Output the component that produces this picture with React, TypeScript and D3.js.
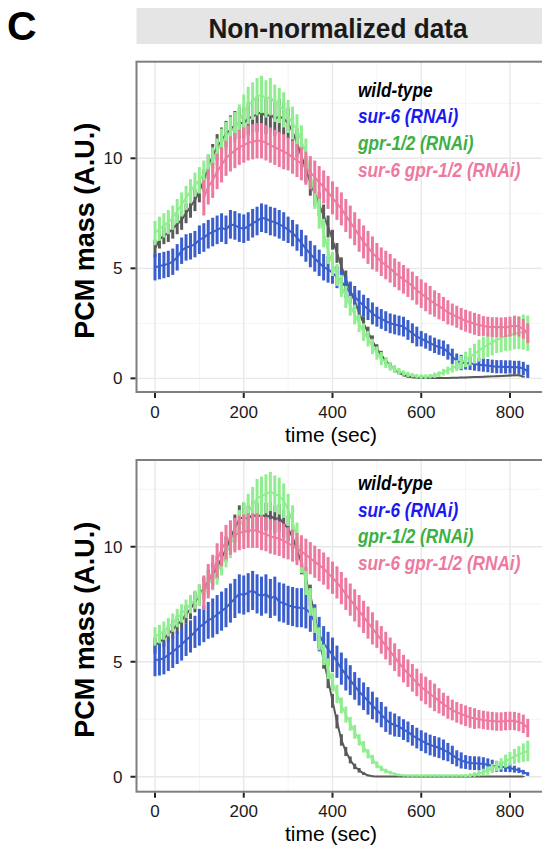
import React from "react";
import * as d3 from "d3";

// sampling times (sec)
const time = d3.range(0, 850, 10);

const labels = ["wild-type", "sur-6 (RNAi)", "gpr-1/2 (RNAi)", "sur-6 gpr-1/2 (RNAi)"];
const lineColors = ["#5a5a5a", "#3a5fcd", "#90ee90", "#ee799f"];
const textColors = ["#000000", "#1a1af0", "#3cb043", "#ee799f"];

const xTicks = [0, 200, 400, 600, 800];
const yTicks = [0, 5, 10];

// ---- top panel ----
const wtTop = [5.9, 6.3, 6.5, 6.6, 6.8, 7.0, 7.2, 7.5, 7.8, 8.1,
  8.5, 9.0, 9.6, 10.1, 10.5, 10.8, 11.1, 11.3, 11.5, 11.6,
  11.6, 11.8, 11.9, 12.0, 12.1, 11.9, 12.0, 11.8, 11.9, 11.8,
  11.6, 11.2, 10.7, 10.1, 9.5, 8.9, 8.4, 7.9, 7.4, 6.9,
  6.3, 5.7, 5.1, 4.5, 4.0, 3.5, 3.0, 2.5, 2.1, 1.7,
  1.35, 1.05, 0.8, 0.58, 0.4, 0.26, 0.15, 0.08, 0.05, 0.03,
  0.02, 0.02, 0.02, 0.02, 0.03, 0.02, 0.02, 0.03, 0.03, 0.04,
  0.04, 0.05, 0.06, 0.06, 0.07, 0.08, 0.09, 0.1, 0.11, 0.12,
  0.13, 0.14, 0.14, 0.08, null];
const wtTopErr = [0.4, 0.4, 0.4, 0.4, 0.45, 0.45, 0.45, 0.45, 0.5, 0.5,
  0.5, 0.5, 0.55, 0.55, 0.6, 0.6, 0.6, 0.65, 0.65, 0.7,
  0.7, 0.75, 0.75, 0.8, 0.8, 0.8, 0.8, 0.8, 0.8, 0.75,
  0.7, 0.7, 0.65, 0.65, 0.6, 0.6, 0.55, 0.55, 0.5, 0.5,
  0.45, 0.45, 0.4, 0.4, 0.35, 0.35, 0.3, 0.3, 0.25, 0.25,
  0.2, 0.2, 0.15, 0.12, 0.1, 0.08, 0.06, 0.05, 0.04, 0.03,
  0.03, 0.03, 0.03, 0.03, 0.03, 0.03, 0.03, 0.03, 0.03, 0.03,
  0.03, 0.03, 0.03, 0.03, 0.03, 0.03, 0.03, 0.03, 0.03, 0.03,
  0.04, 0.04, 0.04, 0.04, null];

const sur6Top = [5.05, 5.1, 5.15, 5.2, 5.3, 5.5, 5.8, 5.95, 6.0, 6.1,
  6.3, 6.4, 6.55, 6.65, 6.75, 6.85, 6.75, 7.0, 6.95, 6.85,
  6.8, 6.9, 7.05, 7.15, 7.3, 7.25, 7.15, 7.1, 7.0, 6.9,
  6.75, 6.6, 6.4, 6.15, 5.9, 5.65, 5.45, 5.25, 5.05, 4.95,
  4.8, 4.6, 4.4, 4.15, 3.9, 3.7, 3.5, 3.3, 3.15, 2.95,
  2.8, 2.7, 2.6, 2.5, 2.45, 2.4, 2.35, 2.2, 2.05, 1.9,
  1.8, 1.7, 1.6, 1.5, 1.42, 1.37, 1.2, 1.0, 0.78, 0.72,
  0.7, 0.68, 0.65, 0.62, 0.6, 0.58, 0.55, 0.53, 0.53, 0.52,
  0.52, 0.5, 0.5, 0.45, 0.32];
const sur6TopErr = [0.6, 0.6, 0.6, 0.6, 0.6, 0.6, 0.6, 0.6, 0.6, 0.6,
  0.65, 0.65, 0.65, 0.65, 0.65, 0.65, 0.65, 0.65, 0.65, 0.65,
  0.65, 0.65, 0.65, 0.65, 0.65, 0.65, 0.65, 0.65, 0.65, 0.65,
  0.6, 0.6, 0.6, 0.6, 0.6, 0.6, 0.6, 0.6, 0.6, 0.6,
  0.5, 0.5, 0.5, 0.5, 0.5, 0.5, 0.5, 0.5, 0.5, 0.5,
  0.45, 0.45, 0.45, 0.45, 0.45, 0.45, 0.45, 0.45, 0.45, 0.45,
  0.35, 0.35, 0.35, 0.35, 0.35, 0.35, 0.35, 0.35, 0.35, 0.35,
  0.3, 0.3, 0.3, 0.3, 0.3, 0.3, 0.3, 0.3, 0.3, 0.3,
  0.3, 0.3, 0.3, 0.3, 0.3];

const gprTop = [6.6, 6.8, 6.95, 7.1, 7.3, 7.6, 7.9, 8.2, 8.5, 8.8,
  9.0, 9.3, 9.6, 9.9, 10.3, 10.7, 11.0, 11.2, 11.4, 11.7,
  12.1, 12.4, 12.6, 12.8, 12.9, 12.7, 12.8, 12.5, 12.4, 12.2,
  11.9, 11.6, 11.3, 10.8, 10.2, 9.3, 8.4, 7.5, 6.6, 5.8,
  5.2, 4.7, 4.2, 3.7, 3.3, 2.9, 2.5, 2.1, 1.8, 1.45,
  1.15, 0.9, 0.72, 0.55, 0.42, 0.32, 0.24, 0.18, 0.14, 0.1,
  0.08, 0.08, 0.1, 0.14, 0.2, 0.28, 0.36, 0.46, 0.58, 0.72,
  0.86, 0.98, 1.12, 1.26, 1.4, 1.52, 1.64, 1.75, 1.84, 1.9,
  1.96, 2.02, 2.08, 2.1, 2.05];
const gprTopErr = [0.55, 0.55, 0.55, 0.55, 0.55, 0.55, 0.55, 0.55, 0.55, 0.55,
  0.6, 0.6, 0.6, 0.6, 0.6, 0.65, 0.65, 0.7, 0.7, 0.75,
  0.8, 0.85, 0.85, 0.85, 0.85, 0.85, 0.85, 0.85, 0.8, 0.8,
  0.75, 0.75, 0.7, 0.7, 0.7, 0.7, 0.7, 0.7, 0.65, 0.6,
  0.55, 0.5, 0.5, 0.5, 0.45, 0.45, 0.4, 0.4, 0.35, 0.35,
  0.3, 0.3, 0.25, 0.2, 0.18, 0.15, 0.12, 0.12, 0.1, 0.1,
  0.1, 0.1, 0.1, 0.12, 0.12, 0.15, 0.18, 0.2, 0.25, 0.3,
  0.35, 0.4, 0.45, 0.5, 0.5, 0.55, 0.6, 0.6, 0.65, 0.65,
  0.7, 0.7, 0.75, 0.8, 0.8];

const dblTop = [null, null, null, null, null, null, null, null, null, null, null,
  8.2, 8.7, 9.0, 9.4, 9.7, 10.0, 10.2, 10.35, 10.5,
  10.6, 10.7, 10.75, 10.8, 10.8, 10.7, 10.6, 10.5, 10.4, 10.3,
  10.2, 10.05, 9.9, 9.75, 9.55, 9.35, 9.15, 8.9, 8.7, 8.45,
  8.2, 7.95, 7.7, 7.4, 7.1, 6.8, 6.5, 6.2, 5.95, 5.7,
  5.5, 5.3, 5.15, 5.0, 4.8, 4.65, 4.5, 4.35, 4.2, 4.0,
  3.85, 3.7, 3.55, 3.4, 3.28, 3.15, 3.0, 2.9, 2.8, 2.7,
  2.62, 2.55, 2.48, 2.42, 2.38, 2.35, 2.33, 2.33, 2.32, 2.33,
  2.35, 2.4, 2.35, 2.25, 2.05];
const dblTopErr = [null, null, null, null, null, null, null, null, null, null, null,
  0.8, 0.8, 0.8, 0.8, 0.8, 0.8, 0.8, 0.8, 0.8,
  0.8, 0.8, 0.8, 0.8, 0.8, 0.8, 0.8, 0.8, 0.8, 0.8,
  0.75, 0.75, 0.75, 0.75, 0.75, 0.75, 0.75, 0.75, 0.75, 0.75,
  0.75, 0.75, 0.75, 0.75, 0.75, 0.75, 0.75, 0.75, 0.75, 0.75,
  0.65, 0.65, 0.65, 0.65, 0.65, 0.65, 0.65, 0.65, 0.65, 0.65,
  0.65, 0.65, 0.65, 0.6, 0.6, 0.55, 0.55, 0.5, 0.5, 0.5,
  0.5, 0.5, 0.5, 0.5, 0.45, 0.45, 0.45, 0.45, 0.45, 0.45,
  0.45, 0.45, 0.45, 0.45, 0.45];

// ---- bottom panel ----
const wtBot = [5.7, 5.85, 6.0, 6.2, 6.4, 6.6, 6.8, 7.05, 7.3, 7.6,
  7.9, 8.2, 8.5, 8.8, 9.1, 9.5, 9.9, 10.4, 10.8, 11.2,
  11.3, 11.2, 11.4, 11.3, 11.4, 11.3, 11.35, 11.2, 11.25, 11.0,
  10.8, 10.4, 9.9, 9.3, 8.6, 7.9, 7.0, 6.0, 5.1, 4.2,
  3.3, 2.4, 1.6, 1.1, 0.73, 0.45, 0.28, 0.14, 0.06, 0.02,
  0.01, 0.01, 0.01, 0.01, 0.01, 0.01, 0.01, 0.01, 0.01, 0.01,
  0.01, 0.01, 0.01, 0.01, 0.01, 0.01, 0.01, 0.01, 0.01, 0.01,
  0.01, 0.01, 0.01, 0.01, 0.01, 0.01, 0.01, 0.01, 0.01, 0.01,
  0.01, 0.01, 0.01, 0.01, null];
const wtBotErr = [0.35, 0.35, 0.35, 0.35, 0.4, 0.4, 0.4, 0.4, 0.45, 0.45,
  0.45, 0.45, 0.5, 0.5, 0.5, 0.55, 0.55, 0.55, 0.6, 0.6,
  0.6, 0.6, 0.6, 0.6, 0.6, 0.6, 0.6, 0.6, 0.6, 0.6,
  0.55, 0.55, 0.5, 0.5, 0.5, 0.45, 0.45, 0.4, 0.4, 0.35,
  0.3, 0.3, 0.25, 0.2, 0.15, 0.12, 0.1, 0.06, 0.04, 0.03,
  0.02, 0.02, 0.02, 0.02, 0.02, 0.02, 0.02, 0.02, 0.02, 0.02,
  0.02, 0.02, 0.02, 0.02, 0.02, 0.02, 0.02, 0.02, 0.02, 0.02,
  0.02, 0.02, 0.02, 0.02, 0.02, 0.02, 0.02, 0.02, 0.02, 0.02,
  0.02, 0.02, 0.02, 0.02, null];

const sur6Bot = [5.07, 5.1, 5.15, 5.3, 5.43, 5.6, 5.75, 5.95, 6.1, 6.3,
  6.5, 6.65, 6.8, 6.9, 7.05, 7.2, 7.35, 7.55, 7.75, 7.95,
  7.9, 8.0, 8.1, 7.95, 7.85, 7.95, 7.75, 7.85, 7.6, 7.55,
  7.45, 7.4, 7.35, 7.35, 7.3, 7.1, 6.7, 6.2, 5.8, 5.55,
  5.3, 5.0, 4.7, 4.45, 4.2, 3.95, 3.7, 3.5, 3.3, 3.1,
  2.9, 2.7, 2.5, 2.33, 2.25, 2.18, 2.05, 1.95, 1.8, 1.68,
  1.57, 1.47, 1.38, 1.32, 1.26, 1.17, 1.07, 0.95, 0.8, 0.71,
  0.64, 0.6, 0.59, 0.58, 0.55, 0.52, 0.48, 0.45, 0.43, 0.41,
  0.38, 0.33, 0.28, 0.2, 0.12];
const sur6BotErr = [0.7, 0.7, 0.7, 0.7, 0.7, 0.7, 0.7, 0.7, 0.7, 0.7,
  0.8, 0.8, 0.8, 0.85, 0.85, 0.85, 0.85, 0.85, 0.85, 0.85,
  0.85, 0.85, 0.85, 0.85, 0.85, 0.85, 0.85, 0.85, 0.85, 0.85,
  0.85, 0.85, 0.85, 0.85, 0.85, 0.8, 0.8, 0.75, 0.75, 0.75,
  0.75, 0.7, 0.7, 0.7, 0.65, 0.6, 0.6, 0.6, 0.6, 0.6,
  0.55, 0.55, 0.55, 0.5, 0.5, 0.45, 0.45, 0.45, 0.45, 0.45,
  0.45, 0.45, 0.45, 0.45, 0.45, 0.45, 0.4, 0.4, 0.35, 0.35,
  0.3, 0.3, 0.3, 0.3, 0.3, 0.28, 0.26, 0.24, 0.22, 0.2,
  0.18, 0.15, 0.12, 0.1, 0.08];

const gprBot = [6.1, 6.2, 6.35, 6.5, 6.7, 6.9, 7.1, 7.3, 7.5, 7.7,
  7.9, 8.1, 8.35, 8.6, 8.9, 9.3, 9.7, 10.1, 10.5, 10.9,
  11.2, 11.5, 11.8, 12.1, 12.2, 12.3, 12.4, 12.3, 12.2, 12.0,
  11.6, 11.1, 10.4, 9.5, 8.5, 7.6, 6.8, 6.0, 5.3, 4.7,
  4.1, 3.6, 3.1, 2.7, 2.3, 1.95, 1.6, 1.3, 1.0, 0.75,
  0.52, 0.36, 0.25, 0.18, 0.12, 0.08, 0.06, 0.05, 0.05, 0.05,
  0.05, 0.05, 0.05, 0.05, 0.05, 0.05, 0.05, 0.05, 0.05, 0.05,
  0.05, 0.07, 0.1, 0.14, 0.2, 0.27, 0.36, 0.46, 0.56, 0.68,
  0.78, 0.88, 0.97, 1.05, 1.12];
const gprBotErr = [0.4, 0.4, 0.4, 0.4, 0.4, 0.4, 0.4, 0.4, 0.4, 0.4,
  0.45, 0.45, 0.5, 0.5, 0.55, 0.55, 0.6, 0.6, 0.65, 0.7,
  0.75, 0.8, 0.8, 0.85, 0.85, 0.85, 0.85, 0.8, 0.8, 0.75,
  0.7, 0.7, 0.65, 0.65, 0.6, 0.6, 0.55, 0.5, 0.45, 0.45,
  0.4, 0.4, 0.35, 0.35, 0.3, 0.3, 0.25, 0.25, 0.2, 0.2,
  0.15, 0.12, 0.1, 0.08, 0.06, 0.06, 0.05, 0.05, 0.05, 0.05,
  0.05, 0.05, 0.05, 0.05, 0.05, 0.05, 0.05, 0.05, 0.05, 0.05,
  0.06, 0.08, 0.1, 0.12, 0.15, 0.18, 0.2, 0.22, 0.25, 0.28,
  0.3, 0.33, 0.36, 0.4, 0.45];

const dblBot = [null, null, null, null, null, null, null, null, null, null, null,
  8.0, 8.5, 8.9, 9.4, 9.9, 10.2, 10.4, 10.5, 10.6,
  10.65, 10.7, 10.7, 10.7, 10.6, 10.55, 10.45, 10.4, 10.35, 10.25,
  10.15, 10.05, 9.9, 9.8, 9.65, 9.5, 9.35, 9.2, 9.05, 8.85,
  8.65, 8.45, 8.2, 7.95, 7.7, 7.45, 7.2, 6.95, 6.7, 6.45,
  6.2, 5.95, 5.7, 5.45, 5.2, 4.95, 4.7, 4.5, 4.3, 4.1,
  3.9, 3.75, 3.6, 3.45, 3.3, 3.15, 3.02, 2.9, 2.8, 2.72,
  2.65, 2.58, 2.53, 2.5, 2.47, 2.44, 2.42, 2.4, 2.4, 2.42,
  2.43, 2.42, 2.38, 2.3, 2.12];
const dblBotErr = [null, null, null, null, null, null, null, null, null, null, null,
  0.75, 0.75, 0.75, 0.75, 0.75, 0.75, 0.75, 0.75, 0.75,
  0.75, 0.75, 0.75, 0.75, 0.75, 0.75, 0.75, 0.75, 0.75, 0.75,
  0.7, 0.7, 0.7, 0.7, 0.7, 0.7, 0.7, 0.7, 0.7, 0.7,
  0.7, 0.7, 0.7, 0.7, 0.7, 0.7, 0.7, 0.7, 0.7, 0.7,
  0.6, 0.6, 0.6, 0.6, 0.6, 0.6, 0.6, 0.6, 0.6, 0.6,
  0.6, 0.6, 0.6, 0.6, 0.55, 0.5, 0.5, 0.45, 0.45, 0.45,
  0.45, 0.45, 0.45, 0.4, 0.4, 0.4, 0.4, 0.4, 0.4, 0.4,
  0.4, 0.4, 0.4, 0.4, 0.4];

const topSeries = [[wtTop, wtTopErr], [sur6Top, sur6TopErr], [gprTop, gprTopErr], [dblTop, dblTopErr]];
const botSeries = [[wtBot, wtBotErr], [sur6Bot, sur6BotErr], [gprBot, gprBotErr], [dblBot, dblBotErr]];

const FONT = "'Liberation Sans', Arial, Helvetica, sans-serif";
const LEFT = 136.5;
const RIGHT = 543;

type Val = number | null;

function Panel({ top, bottom, yDomain, series, legendTop }:
  { top: number; bottom: number; yDomain: [number, number]; series: Val[][][]; legendTop: number }) {
  const x = d3.scaleLinear().domain([0, 800]).range([155, 510]);
  const y = d3.scaleLinear().domain(yDomain).range([bottom, top]);

  const xMinor = [100, 300, 500, 700];
  const yMinor = [2.5, 7.5, 12.5];

  return (
    <g>
      <rect x={LEFT} y={top} width={RIGHT - LEFT} height={bottom - top} fill="#ffffff" />
      {yMinor.map(v => (
        <line key={"ym" + v} x1={LEFT} x2={RIGHT} y1={y(v)} y2={y(v)} stroke="#f4f4f4" strokeWidth={1} />
      ))}
      {xMinor.map(v => (
        <line key={"xm" + v} x1={x(v)} x2={x(v)} y1={top} y2={bottom} stroke="#f4f4f4" strokeWidth={1} />
      ))}
      {yTicks.map(v => (
        <line key={"yM" + v} x1={LEFT} x2={RIGHT} y1={y(v)} y2={y(v)} stroke="#e8e8e8" strokeWidth={1.4} />
      ))}
      {xTicks.map(v => (
        <line key={"xM" + v} x1={x(v)} x2={x(v)} y1={top} y2={bottom} stroke="#e8e8e8" strokeWidth={1.4} />
      ))}

      {series.map(([vals, errs], si) => {
        const idx = d3.range(time.length).filter(i => vals[i] != null);
        const line = d3.line<number>()
          .x(i => x(time[i]))
          .y(i => y(vals[i] as number));
        return (
          <g key={"s" + si}>
            {idx.map(i => (
              <line key={i}
                x1={x(time[i])} x2={x(time[i])}
                y1={y((vals[i] as number) - (errs[i] as number))}
                y2={y((vals[i] as number) + (errs[i] as number))}
                stroke={lineColors[si]} strokeWidth={3} />
            ))}
            <path d={line(idx) || ""} fill="none" stroke={lineColors[si]} strokeWidth={2} />
          </g>
        );
      })}

      <rect x={LEFT} y={top} width={RIGHT - LEFT} height={bottom - top} fill="none" stroke="#7f7f7f" strokeWidth={2} />

      {yTicks.map(v => (
        <g key={"yt" + v}>
          <line x1={LEFT - 6} x2={LEFT - 1} y1={y(v)} y2={y(v)} stroke="#222" strokeWidth={2} />
          <text x={LEFT - 14} y={y(v)} dy="0.36em" textAnchor="end" fontSize={17} fontFamily={FONT} fill="#1a1a1a">{v}</text>
        </g>
      ))}
      {xTicks.map(v => (
        <g key={"xt" + v}>
          <line x1={x(v)} x2={x(v)} y1={bottom + 1} y2={bottom + 6} stroke="#222" strokeWidth={2} />
          <text x={x(v)} y={bottom + 25.5} textAnchor="middle" fontSize={17} fontFamily={FONT} fill="#1a1a1a">{v}</text>
        </g>
      ))}
      <text x={331} y={bottom + 49.5} textAnchor="middle" fontSize={21} fontFamily={FONT} fill="#000">time (sec)</text>
      <text transform={`translate(94,${(top + bottom) / 2 + 4}) rotate(-90)`} textAnchor="middle"
        fontSize={27} fontWeight="bold" fontFamily={FONT} fill="#000">PCM mass (A.U.)</text>

      {labels.map((lab, i) => (
        <text key={lab} transform={`translate(358,${legendTop + i * 26.6}) scale(0.86,1)`}
          fontSize={20} fontWeight="bold" fontStyle="italic" fontFamily={FONT} fill={textColors[i]}>{lab}</text>
      ))}
    </g>
  );
}

export default function App() {
  return (
    <svg width={542} height={845} style={{ display: "block", position: "absolute", left: 0, top: 0 }}>
      <rect x={0} y={0} width={542} height={845} fill="#ffffff" />
      <text x={7} y={40} fontSize={41} fontWeight="bold" fontFamily={FONT} fill="#000">C</text>
      <rect x={LEFT} y={8} width={RIGHT - LEFT} height={36} fill="#e5e5e5" />
      <text transform="translate(338,37.5) scale(0.92,1)" textAnchor="middle" fontSize={28.5} fontWeight="bold" fontFamily={FONT} fill="#1a1a1a">Non-normalized data</text>
      <Panel top={61.7} bottom={392} yDomain={[-0.62, 14.39]} series={topSeries} legendTop={96.7} />
      <Panel top={460} bottom={791.7} yDomain={[-0.65, 13.77]} series={botSeries} legendTop={490} />
    </svg>
  );
}
